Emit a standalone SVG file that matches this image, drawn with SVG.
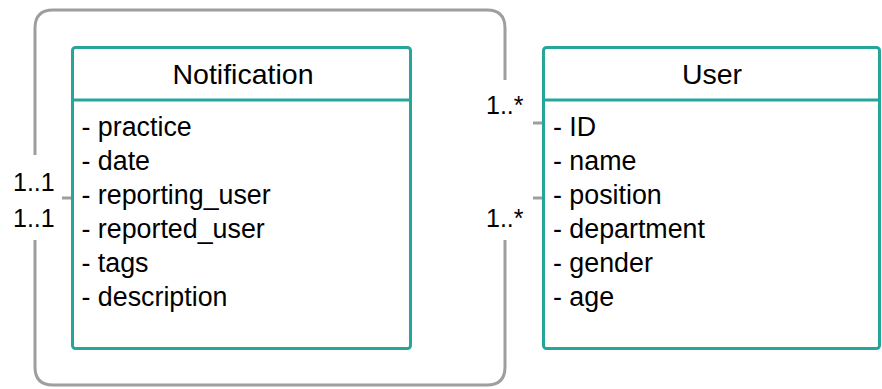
<svg xmlns="http://www.w3.org/2000/svg" width="882" height="389" viewBox="0 0 882 389">
  <style>
    .box { fill: #ffffff; stroke: #26a69a; stroke-width: 3; }
    .sep { stroke: #26a69a; stroke-width: 3; }
    .title { font-family: "Liberation Sans", Arial, sans-serif; font-size: 28.5px; fill: #000; text-anchor: middle; }
    .attr { font-family: "Liberation Sans", Arial, sans-serif; font-size: 26.8px; fill: #000; }
    .link { fill: none; stroke: #9e9e9e; stroke-width: 3; }
    .mult { font-family: "Liberation Sans", Arial, sans-serif; font-size: 25px; fill: #000; }
  </style>
  <rect width="882" height="389" fill="#ffffff"/>

  <!-- associations between Notification and User -->
  <g id="connectors">
    <g id="reporting-link">
      <path class="link" d="M72,198 H62"/>
      <path class="link" d="M35,155 V28 Q35,10 53,10 H487 Q505,10 505,28 V80"/>
      <path class="link" d="M533,123 H543"/>
      <text class="mult" x="13" y="191">1..1</text>
      <text class="mult" x="486" y="114">1..*</text>
    </g>
    <g id="reported-link">
      <path class="link" d="M35,240 V367 Q35,385 53,385 H487 Q505,385 505,367 V240"/>
      <path class="link" d="M533,198 H543"/>
      <text class="mult" x="13" y="227">1..1</text>
      <text class="mult" x="486" y="227">1..*</text>
    </g>
  </g>

  <g id="notification">
    <rect class="box" x="72.5" y="47.5" width="338" height="301" rx="3"/>
    <line class="sep" x1="72.5" y1="100" x2="410.5" y2="100"/>
    <text class="title" x="243" y="83.5">Notification</text>
    <text class="attr" x="81.5" y="136">- practice</text>
    <text class="attr" x="81.5" y="170">- date</text>
    <text class="attr" x="81.5" y="204">- reporting_user</text>
    <text class="attr" x="81.5" y="238">- reported_user</text>
    <text class="attr" x="81.5" y="272">- tags</text>
    <text class="attr" x="81.5" y="306">- description</text>
  </g>

  <g id="user">
    <rect class="box" x="543.5" y="47.5" width="336" height="301" rx="3"/>
    <line class="sep" x1="543.5" y1="100" x2="879.5" y2="100"/>
    <text class="title" x="712" y="83.5">User</text>
    <text class="attr" x="553" y="136">- ID</text>
    <text class="attr" x="553" y="170">- name</text>
    <text class="attr" x="553" y="204">- position</text>
    <text class="attr" x="553" y="238">- department</text>
    <text class="attr" x="553" y="272">- gender</text>
    <text class="attr" x="553" y="306">- age</text>
  </g>
</svg>
